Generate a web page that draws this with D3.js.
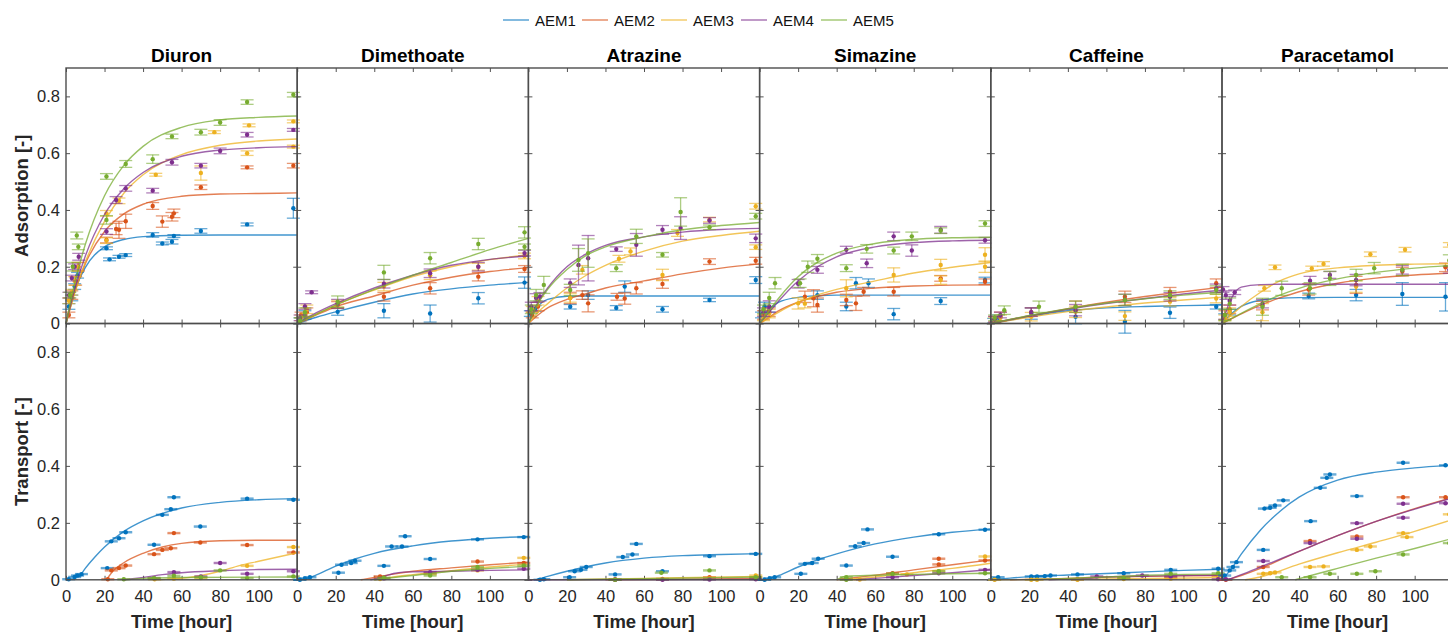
<!DOCTYPE html>
<html>
<head>
<meta charset="utf-8">
<script src="https://cdn.jsdelivr.net/npm/d3@7"></script>
<style>
  body { margin: 0; background: #fff; }
  svg { display: block; font-family: "Liberation Sans", Arial, sans-serif; }
</style>
</head>
<body>
<div id="vis"></div>
<script>
// panel titles and series names
var compounds = ["Diuron", "Dimethoate", "Atrazine", "Simazine", "Caffeine", "Paracetamol"];
var membranes = ["AEM1", "AEM2", "AEM3", "AEM4", "AEM5"];
var timeTicks = [0, 20, 40, 60, 80, 100];
var valueTicks = [0, 0.2, 0.4, 0.6, 0.8];

// ---- adsorption: fitted curves [t, value] per membrane ----
var adsFitDiuron = [
  [[0,0],[5,0.123],[10,0.197],[20,0.27],[30,0.296],[40,0.306],[60,0.311],[80,0.312],[100,0.312],[120,0.312]],
  [[0,0],[5,0.121],[10,0.21],[20,0.324],[30,0.386],[40,0.42],[60,0.448],[80,0.456],[100,0.458],[120,0.46]],
  [[0,0],[5,0.118],[10,0.216],[20,0.36],[30,0.459],[40,0.524],[60,0.595],[80,0.628],[100,0.643],[120,0.65]],
  [[0,0],[5,0.132],[10,0.237],[20,0.384],[30,0.475],[40,0.532],[60,0.589],[80,0.611],[100,0.619],[120,0.623]],
  [[0,0],[5,0.155],[10,0.278],[20,0.45],[30,0.557],[40,0.624],[60,0.691],[80,0.717],[100,0.726],[120,0.731]]
];
var adsFitDimethoate = [
  [[0,0],[10,0.022],[20,0.041],[40,0.075],[60,0.104],[80,0.122],[100,0.135],[120,0.145]],
  [[0,0],[10,0.03],[20,0.059],[40,0.097],[60,0.135],[80,0.163],[100,0.183],[120,0.197]],
  [[0,0],[10,0.033],[20,0.065],[40,0.118],[60,0.165],[80,0.2],[100,0.225],[120,0.242]],
  [[0,0],[10,0.038],[20,0.07],[40,0.125],[60,0.17],[80,0.205],[100,0.226],[120,0.238]],
  [[0,0],[10,0.033],[20,0.065],[40,0.12],[60,0.17],[80,0.215],[100,0.26],[120,0.3]]
];
var adsFitAtrazine = [
  [[0,0],[5,0.06],[10,0.085],[20,0.096],[30,0.097],[60,0.097],[120,0.097]],
  [[0,0],[5,0.03],[10,0.055],[20,0.085],[30,0.105],[40,0.125],[60,0.15],[80,0.175],[100,0.195],[120,0.21]],
  [[0,0],[5,0.04],[10,0.07],[20,0.125],[30,0.17],[40,0.205],[60,0.255],[80,0.29],[100,0.31],[120,0.325]],
  [[0,0],[5,0.075],[10,0.125],[20,0.2],[30,0.245],[40,0.275],[60,0.305],[80,0.322],[100,0.331],[120,0.335]],
  [[0,0],[5,0.07],[10,0.12],[20,0.19],[30,0.24],[40,0.27],[60,0.305],[80,0.33],[100,0.345],[120,0.356]]
];
var adsFitSimazine = [
  [[0,0],[5,0.05],[10,0.075],[20,0.092],[30,0.098],[40,0.1],[60,0.1],[120,0.1]],
  [[0,0],[5,0.022],[10,0.045],[20,0.075],[30,0.095],[40,0.11],[60,0.125],[80,0.132],[100,0.135],[120,0.136]],
  [[0,0],[5,0.02],[10,0.04],[20,0.075],[30,0.1],[40,0.12],[60,0.15],[80,0.178],[100,0.198],[120,0.215]],
  [[0,0],[5,0.04],[10,0.08],[20,0.15],[30,0.2],[40,0.235],[60,0.27],[80,0.285],[100,0.291],[120,0.293]],
  [[0,0],[5,0.045],[10,0.09],[20,0.165],[30,0.215],[40,0.248],[60,0.282],[80,0.297],[100,0.302],[120,0.304]]
];
var adsFitCaffeine = [
  [[0,0],[10,0.012],[20,0.025],[40,0.045],[60,0.055],[80,0.06],[100,0.063],[120,0.065]],
  [[0,0],[20,0.027],[40,0.052],[60,0.075],[80,0.095],[100,0.112],[120,0.128]],
  [[0,0],[20,0.022],[40,0.042],[60,0.058],[80,0.072],[100,0.083],[120,0.093]],
  [[0,0],[20,0.027],[40,0.05],[60,0.07],[80,0.088],[100,0.104],[120,0.117]],
  [[0,0],[20,0.028],[40,0.052],[60,0.072],[80,0.087],[100,0.1],[120,0.11]]
];
var adsFitParacetamol = [
  [[0,0],[5,0.035],[10,0.06],[20,0.082],[30,0.089],[40,0.091],[60,0.092],[120,0.092]],
  [[0,0],[5,0.017],[10,0.034],[20,0.065],[30,0.09],[40,0.112],[60,0.142],[80,0.16],[100,0.171],[120,0.178]],
  [[0,0],[5,0.03],[10,0.06],[20,0.11],[30,0.15],[40,0.175],[60,0.196],[80,0.205],[100,0.209],[120,0.211]],
  [[0,0],[5,0.09],[10,0.128],[20,0.137],[30,0.138],[60,0.138],[120,0.138]],
  [[0,0],[5,0.018],[10,0.036],[20,0.07],[30,0.1],[40,0.124],[60,0.157],[80,0.18],[100,0.195],[120,0.205]]
];

// ---- adsorption: measured points [t, value, error] per membrane ----
var adsPtsDiuron = [
  [[1.5,0.06,0.01],[3,0.09,0.01],[4.5,0.13,0.01],[6,0.17,0.01],[21,0.265,0.005],[22.6,0.226,0.005],[27.5,0.235,0.005],[31,0.241,0.005],[45,0.312,0.008],[50,0.282,0.005],[55,0.288,0.008],[56,0.308,0.005],[70,0.326,0.008],[94,0.349,0.005],[118,0.406,0.035]],
  [[1.5,0.03,0.01],[3,0.1,0.015],[5,0.15,0.015],[6.5,0.2,0.015],[21,0.294,0.01],[26,0.333,0.02],[27.5,0.33,0.03],[31,0.36,0.025],[45,0.414,0.012],[50,0.359,0.02],[55,0.376,0.015],[56,0.388,0.015],[70,0.48,0.008],[94,0.55,0.005],[118,0.556,0.008]],
  [[1.5,0.08,0.01],[3,0.11,0.01],[4.5,0.15,0.015],[6,0.2,0.015],[21,0.292,0.01],[21,0.388,0.01],[27.5,0.432,0.01],[46.6,0.524,0.005],[70,0.53,0.025],[77,0.674,0.005],[94,0.6,0.008],[95,0.698,0.005],[118,0.623,0.005],[118,0.712,0.005]],
  [[1.5,0.1,0.01],[3,0.16,0.01],[4.5,0.2,0.01],[6.6,0.235,0.012],[21,0.324,0.01],[26,0.435,0.012],[31,0.476,0.01],[45,0.468,0.008],[55,0.568,0.01],[70,0.556,0.008],[80,0.608,0.01],[94,0.665,0.008],[118,0.682,0.005]],
  [[2,0.1,0.01],[3.5,0.2,0.015],[5.6,0.31,0.012],[6.4,0.27,0.01],[21,0.365,0.015],[21,0.518,0.01],[31,0.562,0.012],[45,0.579,0.015],[55,0.659,0.008],[70,0.674,0.01],[80,0.708,0.01],[94,0.78,0.008],[118,0.806,0.008]]
];
var adsPtsDimethoate = [
  [[1.5,0.01,0.01],[4,0.03,0.015],[21,0.041,0.012],[45,0.045,0.025],[69,0.035,0.03],[94,0.089,0.02],[118,0.144,0.02]],
  [[2,0.03,0.01],[5,0.04,0.015],[21,0.065,0.012],[45,0.094,0.015],[69,0.124,0.02],[94,0.165,0.015],[118,0.192,0.012]],
  [[2,0.02,0.01],[5,0.05,0.015],[21,0.07,0.012],[45,0.13,0.015],[69,0.17,0.015],[94,0.2,0.012],[118,0.238,0.01]],
  [[1.5,0.02,0.01],[4,0.06,0.01],[7.5,0.11,0.005],[21,0.07,0.015],[45,0.14,0.015],[69,0.177,0.015],[94,0.2,0.015],[118,0.248,0.01]],
  [[1.5,0.01,0.01],[4,0.04,0.015],[21,0.077,0.02],[45,0.18,0.025],[69,0.23,0.02],[94,0.28,0.02],[118,0.321,0.02],[118,0.27,0.01]]
];
var adsPtsAtrazine = [
  [[1,0.035,0.01],[3.5,0.053,0.01],[21.7,0.059,0.008],[31,0.1,0.015],[45.6,0.055,0.008],[50,0.13,0.02],[69.6,0.05,0.01],[94,0.083,0.006],[118,0.153,0.012]],
  [[2,0.03,0.01],[5,0.06,0.015],[21.7,0.09,0.02],[28,0.1,0.015],[31,0.071,0.03],[46,0.094,0.012],[50,0.088,0.02],[56,0.124,0.02],[69.6,0.139,0.015],[94,0.218,0.01],[118,0.221,0.012]],
  [[2,0.05,0.01],[5,0.08,0.015],[21.7,0.09,0.015],[28,0.189,0.015],[47,0.228,0.012],[53,0.254,0.012],[69.6,0.171,0.02],[77.4,0.319,0.012],[94,0.366,0.008],[118,0.413,0.01],[118,0.269,0.008]],
  [[1.5,0.06,0.015],[4,0.09,0.015],[6,0.094,0.015],[21.7,0.142,0.015],[26,0.206,0.07],[31,0.23,0.08],[45.6,0.262,0.008],[56,0.277,0.04],[69.6,0.33,0.015],[79,0.336,0.04],[94,0.363,0.01],[118,0.3,0.015]],
  [[1.5,0.05,0.015],[4,0.1,0.02],[8,0.136,0.03],[21.7,0.118,0.02],[26,0.224,0.04],[31,0.248,0.05],[45.6,0.195,0.012],[56,0.307,0.025],[69.6,0.242,0.008],[79,0.393,0.05],[94,0.339,0.008],[118,0.378,0.01]]
];
var adsPtsSimazine = [
  [[1,0.03,0.01],[2.6,0.06,0.015],[5,0.05,0.01],[30,0.1,0.015],[45,0.06,0.015],[50,0.142,0.02],[56.5,0.142,0.015],[69.6,0.033,0.02],[94,0.079,0.012],[117,0.153,0.01]],
  [[2,0.03,0.015],[5,0.04,0.015],[23.5,0.094,0.02],[28,0.089,0.03],[30,0.065,0.025],[45,0.083,0.02],[50,0.071,0.025],[54,0.112,0.015],[69.6,0.112,0.015],[94,0.159,0.01],[117,0.147,0.01]],
  [[2,0.02,0.01],[5,0.035,0.015],[20,0.071,0.02],[23.5,0.07,0.015],[45,0.124,0.03],[69.6,0.171,0.025],[94,0.206,0.02],[94,0.153,0.015],[117,0.242,0.025],[117,0.2,0.02]],
  [[2,0.04,0.015],[5,0.06,0.02],[20,0.14,0.015],[30,0.189,0.012],[45,0.26,0.012],[55.6,0.212,0.015],[69.6,0.307,0.015],[79,0.257,0.02],[94,0.33,0.012],[117,0.293,0.01]],
  [[2,0.05,0.015],[5,0.09,0.02],[8,0.142,0.02],[21,0.142,0.015],[25,0.2,0.02],[30,0.228,0.015],[45,0.195,0.012],[55.6,0.263,0.015],[69.6,0.257,0.012],[79,0.307,0.015],[94,0.327,0.01],[117,0.352,0.01]]
];
var adsPtsCaffeine = [
  [[1.5,0.01,0.008],[4,0.02,0.01],[21,0.035,0.02],[44,0.024,0.025],[69.6,0.006,0.04],[93,0.038,0.02],[117,0.059,0.008]],
  [[2,0.015,0.01],[5,0.025,0.015],[21,0.04,0.015],[44,0.059,0.02],[69.6,0.094,0.02],[93,0.112,0.015],[117,0.142,0.015]],
  [[2,0.01,0.01],[5,0.02,0.01],[21,0.024,0.015],[44,0.041,0.02],[69.6,0.026,0.015],[93,0.077,0.015],[117,0.088,0.015]],
  [[2,0.015,0.01],[5,0.03,0.01],[21,0.04,0.015],[44,0.047,0.02],[69.6,0.083,0.02],[93,0.094,0.015],[117,0.124,0.015]],
  [[2,0.02,0.01],[7,0.047,0.015],[25,0.059,0.02],[44,0.059,0.02],[69.6,0.083,0.02],[93,0.1,0.015],[117,0.118,0.015]]
];
var adsPtsParacetamol = [
  [[1.4,0.024,0.01],[4,0.04,0.01],[45,0.097,0.01],[69.6,0.1,0.02],[93.6,0.104,0.04],[116,0.094,0.05]],
  [[1.5,0.03,0.015],[4,0.05,0.015],[21,0.063,0.015],[45,0.12,0.02],[69.6,0.136,0.03],[93.6,0.183,0.015],[116,0.198,0.015]],
  [[1.5,0.02,0.01],[4,0.04,0.015],[21,0.04,0.03],[22,0.124,0.01],[27.5,0.198,0.008],[46.6,0.194,0.008],[52.7,0.21,0.008],[69.6,0.13,0.02],[77,0.244,0.008],[95,0.26,0.008],[118,0.277,0.008]],
  [[0.5,0.12,0.01],[2,0.1,0.015],[4,0.08,0.015],[6.6,0.11,0.008],[21,0.07,0.015],[45.7,0.151,0.015],[56,0.171,0.012],[69.6,0.153,0.02],[93.6,0.189,0.015],[118,0.189,0.012]],
  [[1.5,0.03,0.02],[4,0.07,0.02],[21,0.059,0.03],[31,0.124,0.025],[45.7,0.124,0.02],[56,0.159,0.025],[69.6,0.171,0.02],[79,0.195,0.02],[93.6,0.189,0.02],[118,0.222,0.02]]
];

// ---- transport: fitted curves [t, value] per membrane ----
var trFitDiuron = [
  [[7,0.01],[10,0.04],[15,0.08],[20,0.115],[30,0.17],[40,0.207],[60,0.252],[80,0.272],[100,0.281],[120,0.285]],
  [[21,0],[25,0.035],[30,0.06],[40,0.093],[50,0.115],[60,0.128],[80,0.137],[100,0.139],[120,0.139]],
  [[45,0],[60,0.005],[70,0.015],[80,0.03],[90,0.05],[100,0.065],[110,0.08],[120,0.095]],
  [[30,0],[40,0.008],[50,0.018],[60,0.025],[80,0.032],[100,0.036],[120,0.037]],
  [[30,0],[40,0.005],[60,0.008],[120,0.01]]
];
var trFitDimethoate = [
  [[2,0],[5,0.004],[10,0.017],[20,0.048],[30,0.073],[40,0.093],[60,0.119],[80,0.136],[100,0.146],[120,0.152]],
  [[33,0],[40,0.008],[50,0.02],[60,0.03],[80,0.042],[100,0.053],[120,0.062]],
  [[40,0],[50,0.01],[60,0.018],[80,0.032],[100,0.045],[120,0.055]],
  [[38,0],[45,0.012],[50,0.022],[55,0.027],[60,0.028],[80,0.03],[100,0.033],[120,0.035]],
  [[40,0],[50,0.008],[60,0.015],[80,0.03],[100,0.04],[120,0.048]]
];
var trFitAtrazine = [
  [[4,0],[10,0.012],[20,0.03],[30,0.046],[40,0.059],[60,0.076],[80,0.085],[100,0.089],[120,0.092]],
  [[40,0],[80,0.002],[120,0.005]],
  [[20,0],[60,0.005],[120,0.012]],
  [[0,0],[120,0.001]],
  [[20,0],[60,0.004],[120,0.01]]
];
var trFitSimazine = [
  [[3,0],[10,0.015],[20,0.045],[30,0.07],[40,0.091],[60,0.126],[80,0.15],[100,0.167],[120,0.178]],
  [[40,0],[50,0.008],[60,0.016],[80,0.035],[100,0.053],[120,0.07]],
  [[45,0],[60,0.01],[80,0.025],[100,0.04],[120,0.058]],
  [[50,0],[60,0.005],[80,0.015],[100,0.025],[120,0.036]],
  [[40,0],[45,0.013],[60,0.016],[80,0.019],[100,0.021],[120,0.023]]
];
var trFitCaffeine = [
  [[0,0],[10,0.006],[20,0.011],[40,0.017],[60,0.022],[80,0.028],[100,0.033],[120,0.037]],
  [[10,0],[40,0.005],[60,0.01],[80,0.012],[100,0.014],[120,0.015]],
  [[0,0],[60,0.003],[120,0.008]],
  [[30,0],[50,0.005],[60,0.01],[80,0.013],[100,0.015],[120,0.016]],
  [[20,0],[40,0.005],[60,0.01],[80,0.016],[100,0.019],[120,0.02]]
];
var trFitParacetamol = [
  [[0,0],[5,0.04],[10,0.09],[20,0.175],[30,0.24],[40,0.29],[60,0.35],[80,0.378],[100,0.393],[120,0.403]],
  [[3,0],[10,0.015],[20,0.04],[40,0.1],[60,0.155],[80,0.205],[100,0.25],[120,0.29]],
  [[12,0],[20,0.01],[40,0.055],[60,0.095],[80,0.132],[100,0.17],[120,0.212]],
  [[3,0],[10,0.018],[20,0.045],[40,0.1],[60,0.155],[80,0.205],[100,0.248],[120,0.288]],
  [[38,0],[50,0.022],[60,0.04],[80,0.076],[100,0.11],[120,0.146]]
];

// ---- transport: measured points [t, value] (error bars are tiny) ----
var trPtsDiuron = [
  [[1.4,0.002],[4.5,0.01],[6,0.015],[8,0.02],[21.4,0.041],[23.5,0.135],[27.5,0.146],[31,0.167],[45.7,0.123],[50,0.228],[54.4,0.248],[56,0.29],[69.7,0.187],[94,0.285],[118,0.281]],
  [[21.7,0.002],[23.5,0.033],[27.5,0.041],[31,0.05],[45.7,0.09],[50,0.105],[54.4,0.111],[56,0.164],[69.7,0.131],[94,0.122],[118,0.096]],
  [[46,0.002],[56,0.004],[70,0.006],[94,0.049],[118,0.115]],
  [[45.7,0.006],[56,0.027],[70,0.012],[80,0.059],[94,0.021],[118,0.03]],
  [[30,0.002],[45.7,0.006],[56,0.014],[70,0.009],[80,0.033],[94,0.006],[118,0.012]]
];
var trPtsDimethoate = [
  [[1.4,0],[4,0.005],[6.6,0.009],[21.4,0.025],[23,0.053],[28,0.059],[30,0.067],[45,0.049],[49,0.117],[54.4,0.117],[56,0.153],[69,0.073],[93.6,0.142],[117.6,0.15]],
  [[43,0.012],[69,0.023],[93.6,0.064],[117.6,0.059]],
  [[43,0.003],[69,0.02],[93.6,0.033],[117.6,0.077]],
  [[45,0.005],[69,0.027],[93.6,0.035],[117.6,0.039]],
  [[45,0.007],[69,0.015],[93.6,0.045],[117.6,0.05]]
];
var trPtsAtrazine = [
  [[6,0],[8,0.002],[21.4,0.009],[24,0.03],[27.3,0.035],[30,0.045],[45,0.019],[49,0.08],[54,0.089],[56,0.126],[69.6,0.03],[94,0.083],[118,0.091]],
  [[45,0.002],[69.6,0.003],[94,0.009],[118,0.007]],
  [[45,0],[69.6,0.002],[94,0.004],[118,0.015]],
  [[45,0],[69.6,0],[94,0.001],[118,0.002]],
  [[45,0],[69,0.025],[94,0.033],[118,0.009]]
];
var trPtsSimazine = [
  [[2.6,0],[5.2,0.005],[7.8,0.009],[21.4,0.021],[23.5,0.056],[27.3,0.059],[30.4,0.074],[45,0.05],[49.6,0.118],[54,0.129],[56,0.177],[69,0.081],[93,0.16],[117,0.176]],
  [[45,0.002],[69,0.023],[93,0.054],[93,0.074],[117,0.068]],
  [[52,0.001],[76.5,0.019],[93,0.03],[117,0.082]],
  [[69,0.009],[93,0.023],[117,0.035]],
  [[45,0.009],[45,0],[69,0.021],[93,0.03],[117,0.023]]
];
var trPtsCaffeine = [
  [[2,0.002],[3.8,0.009],[21,0.012],[24,0.012],[28,0.013],[31,0.015],[45,0.019],[69,0.023],[93.4,0.035],[118,0.039]],
  [[45,0.002],[69,0.008],[93.4,0.009],[118,0.015]],
  [[2,0],[21,0],[24,0],[45,0],[69,0.003],[93.4,0.004],[118,0.015]],
  [[55,0.012],[78.6,0.015],[93.4,0.012],[118,0.002]],
  [[69,0.006],[93.4,0.021],[118,0.023]]
];
var trPtsParacetamol = [
  [[1.4,0.015],[4,0.033],[5.7,0.045],[7.5,0.062],[21.4,0.105],[22,0.25],[25,0.253],[27.5,0.261],[31.8,0.279],[46,0.206],[51,0.323],[54.4,0.358],[56,0.37],[70,0.294],[94,0.411],[116,0.402]],
  [[2,0],[21.4,0.045],[45.7,0.136],[70,0.152],[94,0.29],[116,0.29]],
  [[21.4,0.021],[25,0.023],[27.5,0.026],[45.7,0.045],[52.7,0.047],[70,0.105],[77,0.117],[94,0.164],[96,0.15],[118,0.23]],
  [[2,0.002],[21.4,0.066],[45.7,0.129],[70,0.199],[70,0.144],[94,0.267],[94,0.218],[116,0.269]],
  [[31,0.009],[45.7,0.009],[56,0.021],[70,0.021],[79.6,0.03],[94,0.089],[118,0.129]]
];

var adsFit = [adsFitDiuron, adsFitDimethoate, adsFitAtrazine, adsFitSimazine, adsFitCaffeine, adsFitParacetamol];
var adsPts = [adsPtsDiuron, adsPtsDimethoate, adsPtsAtrazine, adsPtsSimazine, adsPtsCaffeine, adsPtsParacetamol];
var trFit = [trFitDiuron, trFitDimethoate, trFitAtrazine, trFitSimazine, trFitCaffeine, trFitParacetamol];
var trPts = [trPtsDiuron, trPtsDimethoate, trPtsAtrazine, trPtsSimazine, trPtsCaffeine, trPtsParacetamol];

// MATLAB default colour order
var colors = ["#0072BD", "#D95319", "#EDB120", "#7E2F8E", "#77AC30"];

var width = 1448, height = 633;
var left = 66, panelW = 231.2;
var rows = [
  {top: 68, bottom: 323.5, fits: adsFit, pts: adsPts, label: "Adsorption [-]"},
  {top: 323.5, bottom: 579.8, fits: trFit, pts: trPts, label: "Transport [-]"}
];
var axisColor = "#262626";

var svg = d3.select("#vis").append("svg")
  .attr("width", width).attr("height", height);

// legend
var legend = svg.append("g").attr("class", "legend");
var legX = [503, 582, 661, 741, 821];
membranes.forEach(function(m, i) {
  legend.append("line")
    .attr("x1", legX[i]).attr("x2", legX[i] + 26)
    .attr("y1", 20).attr("y2", 20)
    .attr("stroke", colors[i]).attr("stroke-opacity", 0.65).attr("stroke-width", 1.5);
  legend.append("text")
    .attr("x", legX[i] + 32).attr("y", 25.5)
    .attr("font-size", 15).attr("fill", "#111")
    .text(m);
});

rows.forEach(function(row, r) {
  var y = d3.scaleLinear().domain([0, 0.9]).range([row.bottom, row.top]);

  compounds.forEach(function(name, c) {
    var x0 = left + c * panelW;
    var x = d3.scaleLinear().domain([0, 120]).range([x0, x0 + panelW]);
    var g = svg.append("g").attr("class", "panel");

    // ticks pointing inward on all four sides, labels only on the outer edges
    var yLeft = d3.axisLeft(y).tickValues(valueTicks).tickSize(-4).tickPadding(6)
      .tickFormat(c === 0 ? d3.format("") : function() { return ""; });
    var yRight = d3.axisRight(y).tickValues(valueTicks).tickSize(-4).tickFormat("");
    var xBottom = d3.axisBottom(x).tickValues(timeTicks).tickSize(-4).tickPadding(10)
      .tickFormat(r === 1 ? d3.format("") : function() { return ""; });
    var xTop = d3.axisTop(x).tickValues(timeTicks).tickSize(-4).tickFormat("");

    [[yLeft, "translate(" + x0 + ",0)"], [yRight, "translate(" + (x0 + panelW) + ",0)"],
     [xBottom, "translate(0," + row.bottom + ")"], [xTop, "translate(0," + row.top + ")"]]
      .forEach(function(a) {
        var ax = g.append("g").attr("transform", a[1]).call(a[0]);
        ax.select(".domain").remove();
        ax.selectAll("line").attr("stroke", axisColor).attr("stroke-width", 0.8);
        ax.selectAll("text").attr("font-size", 16.5).attr("fill", axisColor)
          .attr("font-family", "Liberation Sans, Arial, sans-serif");
      });

    // series: error bars, fitted curve, markers
    var line = d3.line()
      .x(function(d) { return x(d[0]); })
      .y(function(d) { return y(d[1]); })
      .curve(d3.curveMonotoneX);

    membranes.forEach(function(m, s) {
      var col = colors[s];
      var pts = row.pts[c][s];
      var eb = g.append("g").attr("stroke", col).attr("stroke-opacity", 0.6).attr("stroke-width", 1.3);
      pts.forEach(function(p) {
        var err = p.length > 2 ? p[2] : 0.002;
        var px = x(p[0]), lo = y(p[1] - err), hi = y(p[1] + err);
        eb.append("line").attr("x1", px).attr("x2", px).attr("y1", lo).attr("y2", hi);
        eb.append("line").attr("x1", px - 6.5).attr("x2", px + 6.5).attr("y1", lo).attr("y2", lo);
        eb.append("line").attr("x1", px - 6.5).attr("x2", px + 6.5).attr("y1", hi).attr("y2", hi);
      });

      g.append("path")
        .datum(row.fits[c][s])
        .attr("d", line)
        .attr("fill", "none")
        .attr("stroke", col)
        .attr("stroke-opacity", 0.75)
        .attr("stroke-width", 1.4);

      g.selectAll(null)
        .data(pts)
        .enter().append("circle")
        .attr("cx", function(d) { return x(d[0]); })
        .attr("cy", function(d) { return y(d[1]); })
        .attr("r", 2.2)
        .attr("fill", col);
    });

    // box
    g.append("rect")
      .attr("x", x0).attr("y", row.top)
      .attr("width", panelW).attr("height", row.bottom - row.top)
      .attr("fill", "none").attr("stroke", "#4d4d4d").attr("stroke-width", 1.4);

    // titles and x labels
    if (r === 0) {
      svg.append("text")
        .attr("x", x0 + panelW / 2).attr("y", 62)
        .attr("text-anchor", "middle")
        .attr("font-size", 19).attr("font-weight", "bold").attr("fill", "#000")
        .text(name);
    } else {
      svg.append("text")
        .attr("x", x0 + panelW / 2).attr("y", 628)
        .attr("text-anchor", "middle")
        .attr("font-size", 18.5).attr("font-weight", "bold").attr("fill", axisColor)
        .text("Time [hour]");
    }
  });

  // y label
  svg.append("text")
    .attr("transform", "translate(28," + ((row.top + row.bottom) / 2) + ") rotate(-90)")
    .attr("text-anchor", "middle")
    .attr("font-size", 18.5).attr("font-weight", "bold").attr("fill", axisColor)
    .text(row.label);
});
</script>
</body>
</html>
